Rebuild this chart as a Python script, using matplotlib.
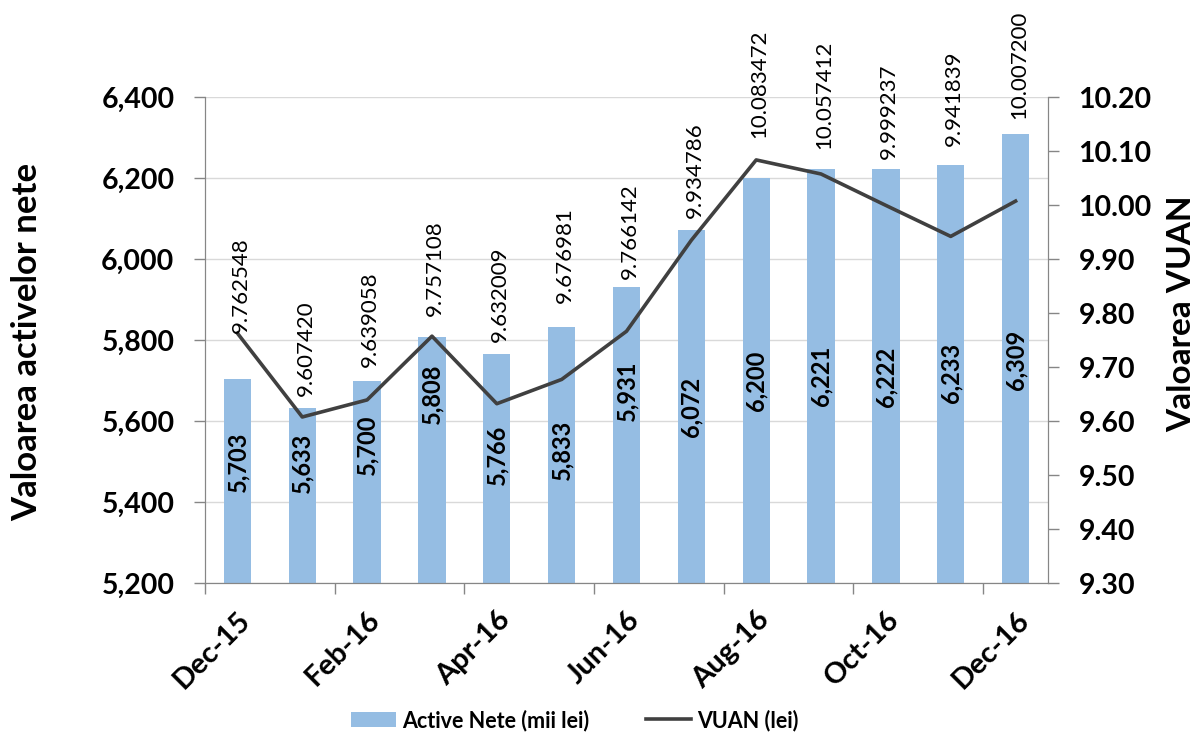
import matplotlib
matplotlib.use("Agg")
import matplotlib.pyplot as plt
import numpy as np

# ---- data ----
months = ["Dec-15", "Jan-16", "Feb-16", "Mar-16", "Apr-16", "May-16", "Jun-16",
          "Jul-16", "Aug-16", "Sep-16", "Oct-16", "Nov-16", "Dec-16"]
active_nete = [5703, 5633, 5700, 5808, 5766, 5833, 5931, 6072, 6200, 6221, 6222, 6233, 6309]
vuan = [9.762548, 9.607420, 9.639058, 9.757108, 9.632009, 9.676981, 9.766142,
        9.934786, 10.083472, 10.057412, 9.999237, 9.941839, 10.007200]
bar_label_text = ["5,703", "5,633", "5,700", "5,808", "5,766", "5,833", "5,931",
                  "6,072", "6,200", "6,221", "6,222", "6,233", "6,309"]
vuan_label_text = ["9.762548", "9.607420", "9.639058", "9.757108", "9.632009", "9.676981",
                   "9.766142", "9.934786", "10.083472", "10.057412", "9.999237",
                   "9.941839", "10.007200"]
left_ticks = [5200, 5400, 5600, 5800, 6000, 6200, 6400]
right_ticks = [9.30, 9.40, 9.50, 9.60, 9.70, 9.80, 9.90, 10.00, 10.10, 10.20]

# ---- layout (manual label placements as in the original) ----
bar_label_y = [5500, 5496, 5542, 5667, 5517, 5529, 5675, 5635, 5700, 5711, 5709, 5718, 5752]
vuan_label_y = [9.7625, 9.647, 9.700, 9.794, 9.747, 9.819, 9.8625, 9.975, 10.125,
                10.103, 10.085, 10.110, 10.160]

plt.rcParams['font.family'] = ['Lato', 'DejaVu Sans']

BAR_COLOR = "#95BDE3"
LINE_COLOR = "#404040"
AXIS_COLOR = "#868686"

fig = plt.figure(figsize=(12, 7.4), dpi=100)
ax = fig.add_axes([205/1200, 1-583/740, (1048-205)/1200, (583-97)/740])
ax2 = ax.twinx()

x = np.arange(len(months))
bars = ax.bar(x, active_nete, width=0.42, color=BAR_COLOR, zorder=2,
              label="Active Nete (mii lei)")
ax.set_ylim(5200, 6400)
ax.set_xlim(-0.5, len(months) - 0.5)
ax.set_yticks(left_ticks)
ax.set_yticklabels([f"{v:,}" for v in left_ticks], fontsize=20.5, fontweight='bold')
ax.grid(axis='y', color='#D9D9D9', linewidth=1, zorder=0)
ax.set_axisbelow(True)

# x ticks: marks at boundaries every 2 months, labels every 2 months at centres
ax.set_xticks(x[::2])
ax.set_xticklabels(months[::2], rotation=45, ha='right', rotation_mode='anchor',
                   fontsize=21, fontweight='bold')
ax.tick_params(axis='x', length=0, pad=17)
ax.set_xticks(np.arange(-0.5, len(months), 2), minor=True)
ax.tick_params(axis='x', which='minor', length=8, color=AXIS_COLOR, width=1)
ax.tick_params(axis='y', length=8, color=AXIS_COLOR, width=1, pad=14)

ax.set_ylabel("Valoarea activelor nete", fontsize=25, fontweight='bold', va='center')
ax.yaxis.set_label_coords(-0.211, 0.496)

for sp in ['top']:
    ax.spines[sp].set_visible(False)
    ax2.spines[sp].set_visible(False)
for sp in ['left', 'bottom', 'right']:
    ax.spines[sp].set_color(AXIS_COLOR)
    ax2.spines[sp].set_color(AXIS_COLOR)

for xi, ly, txt in zip(x, bar_label_y, bar_label_text):
    ax.text(xi, ly, txt, rotation=90, ha='center', va='center', fontsize=17,
            fontweight='bold', color='black', zorder=5)

line, = ax2.plot(x, vuan, color=LINE_COLOR, linewidth=2.6, zorder=4, label="VUAN (lei)")
ax2.set_ylim(9.30, 10.20)
ax2.set_yticks(right_ticks)
ax2.set_yticklabels([f"{v:.2f}" for v in right_ticks], fontsize=20.5, fontweight='bold')
ax2.tick_params(axis='y', length=8, color=AXIS_COLOR, width=1, pad=14)
ax2.set_ylabel("Valoarea VUAN", fontsize=24, fontweight='bold', rotation=90, va='center')
ax2.yaxis.set_label_coords(1.159, 0.553)

for xi, ly, txt in zip(x, vuan_label_y, vuan_label_text):
    ax2.text(xi + 0.05, ly, txt, rotation=90, ha='center', va='bottom', fontsize=16,
             color='black', zorder=6, clip_on=False)

fig.legend(handles=[bars, line], loc='center', bbox_to_anchor=(0.479, 0.027), ncol=2,
           frameon=False, prop={'weight': 'bold', 'size': 15.5}, handlelength=2.1,
           handletextpad=0.3, columnspacing=2.6)

fig.savefig("out.png", dpi=100)
